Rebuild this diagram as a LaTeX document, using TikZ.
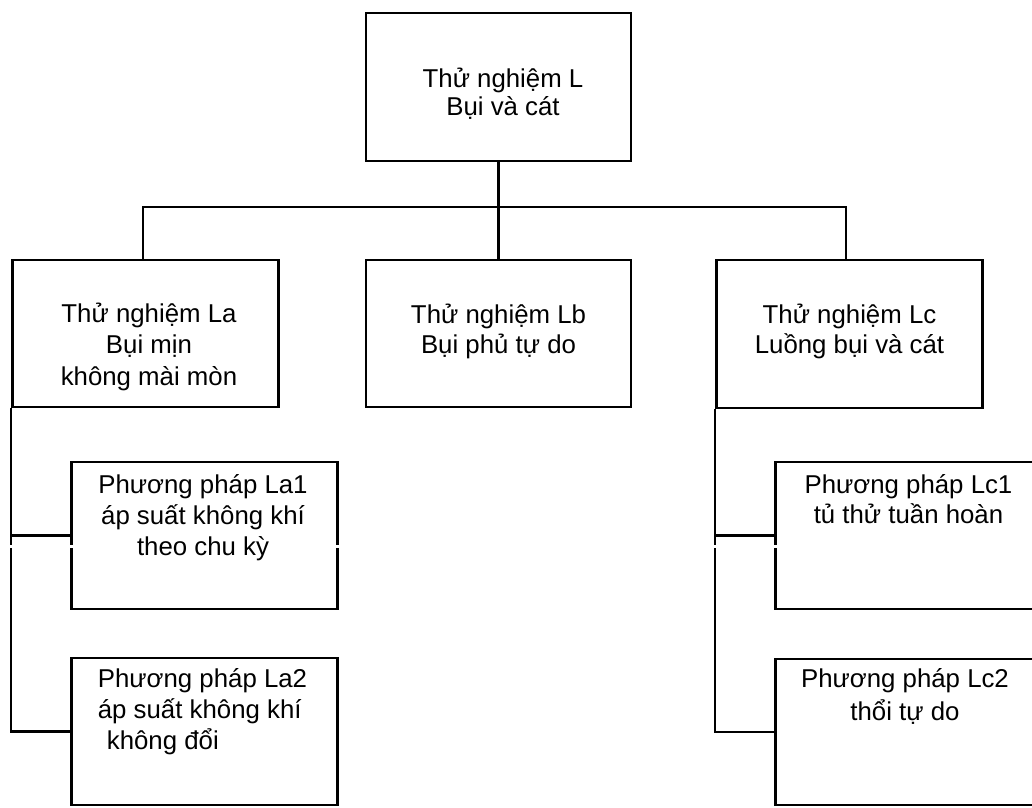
\documentclass[tikz,border=0pt]{standalone}
\usepackage{fontspec}
\setmainfont{Liberation Sans}
\newcommand{\boxlines}[2][c]{\begin{tabular}[t]{@{}#1@{}}#2\end{tabular}}
\begin{document}
\begin{tikzpicture}[x=1pt,y=-1pt,
  box/.style={draw=black, line width=2.6pt, inner sep=0pt, minimum width=266pt, minimum height=147pt},
  link/.style={draw=black, line width=2.2pt},
  txt/.style={anchor=base, inner sep=0pt, font=\fontsize{25.8}{30.5}\selectfont}]
\clip (0,0) rectangle (1032,807);
\fill[white] (0,0) rectangle (1032,807);
% boxes
\node[box, minimum width=265pt, minimum height=148pt] (L) at (498.5,87) {};
\node[box] (La) at (145.5,333.5) {};
\node[box, minimum width=265pt] (Lb) at (498.5,333.5) {};
\node[box, minimum height=148pt] (Lc) at (849.5,334) {};
\node[box] (La1) at (204.5,535.5) {};
\node[box] (La2) at (204.5,731.5) {};
\node[box] (Lc1) at (908.5,535.5) {};
\node[box, minimum height=146pt] (Lc2) at (908.5,732) {};
% connectors
\coordinate (bus) at (498.5,207);
\draw[link] (L.south) -- (Lb.north);
\draw[link] ([xshift=-2.5pt]La.north) |- (bus) -| ([xshift=-3.5pt]Lc.north);
\draw[link] (La.south west) |- (La2.west);
\draw[link] (La.south west |- La1.west) -- (La1.west);
\draw[link] (Lc.south west) |- (Lc2.west);
\draw[link] (Lc.south west |- Lc1.west) -- (Lc1.west);
% scan gaps
\foreach \gx in {12,71,338,715,775} \fill[white] (\gx-4,545) rectangle (\gx+4,547.5);
% texts
\node[txt, font=\fontsize{25.8}{28}\selectfont] (Lt) at (503,87) {\boxlines{Thử nghiệm L\\Bụi và cát}};
\node[txt, font=\fontsize{25.8}{31.5}\selectfont] (Lat) at (149,322) {\boxlines{Thử nghiệm La\\Bụi mịn\\không mài mòn}};
\node[txt] (Lbt) at (498.5,323) {\boxlines{Thử nghiệm Lb\\Bụi phủ tự do}};
\node[txt] (Lct) at (849.5,323) {\boxlines{Thử nghiệm Lc\\Luồng bụi và cát}};
\node[txt, font=\fontsize{25.8}{31}\selectfont] (La1t) at (203,493) {\boxlines{Phương pháp La1\\áp suất không khí\\theo chu kỳ}};
\node[txt, font=\fontsize{25.8}{31}\selectfont] (La2t) at (202.5,687) {\boxlines[l]{Phương pháp La2\\áp suất không khí\\\hspace*{9pt}không đổi}};
\node[txt] (Lc1t) at (908.5,493) {\boxlines{Phương pháp Lc1\\tủ thử tuần hoàn}};
\node[txt, font=\fontsize{25.8}{33}\selectfont] (Lc2t) at (905,687) {\boxlines{Phương pháp Lc2\\thổi tự do}};
\end{tikzpicture}
\end{document}
